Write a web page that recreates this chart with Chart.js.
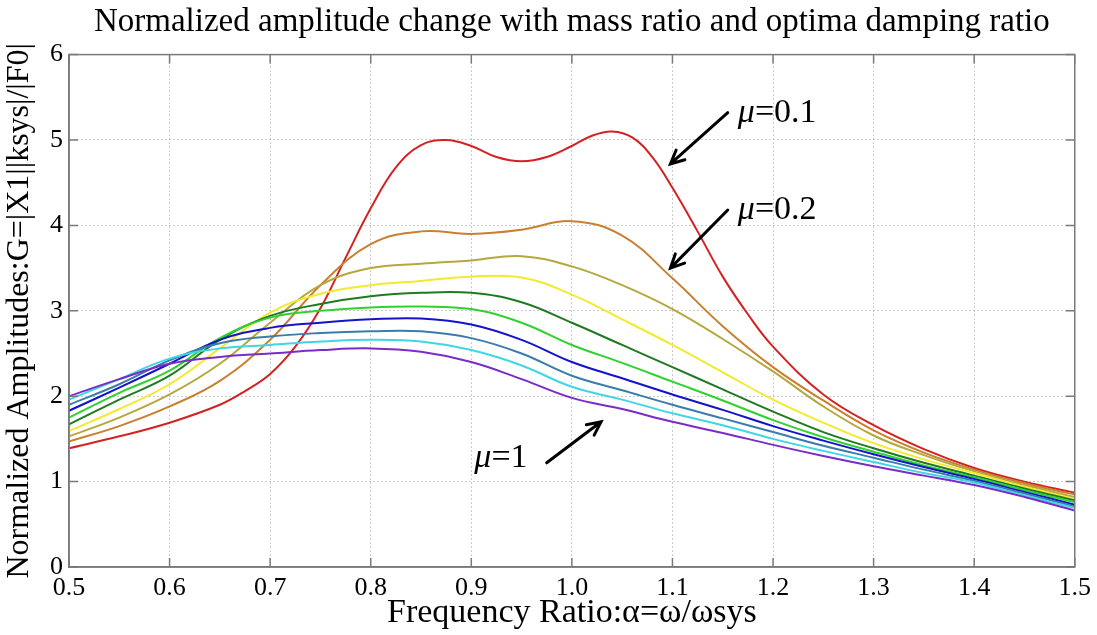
<!DOCTYPE html>
<html lang="en">
<head>
    <meta charset="UTF-8">
    <title>Normalized amplitude change</title>
    <script src="https://cdn.jsdelivr.net/npm/chart.js"></script>
    <style>
        html, body { margin: 0; padding: 0; background: #fff; }
        #wrap { width: 1097px; height: 635px; }
    </style>
</head>
<body>
    <div id="wrap"><canvas id="ampChart" width="1097" height="635"></canvas></div>
    <script>
        // frequency ratio grid shared by mu = 0.2 .. 1
        const freq = [0.5, 0.55, 0.6, 0.65, 0.7, 0.75, 0.8, 0.85, 0.9, 0.95, 1.0,
                      1.05, 1.1, 1.15, 1.2, 1.25, 1.3, 1.35, 1.4, 1.45, 1.5];

        // mu = 0.1 needs a finer grid (two peaks)
        const freqMu01 = [0.5, 0.55, 0.6, 0.65, 0.675, 0.7, 0.725, 0.75, 0.775, 0.8, 0.825, 0.85, 0.875,
                          0.9, 0.925, 0.95, 0.975, 1.0, 1.02, 1.04, 1.06, 1.08, 1.1, 1.125, 1.15,
                          1.175, 1.2, 1.25, 1.3, 1.35, 1.4, 1.45, 1.5];
        const ampMu01 = [1.39, 1.53, 1.69, 1.9, 2.06, 2.26, 2.58, 3.03, 3.62, 4.2, 4.68, 4.94, 5.0,
                         4.93, 4.8, 4.75, 4.8, 4.93, 5.05, 5.1, 5.03, 4.8, 4.44, 3.93, 3.4,
                         2.96, 2.58, 2.02, 1.66, 1.38, 1.16, 1.0, 0.87];

        const ampMu02 = [1.47, 1.65, 1.88, 2.18, 2.66, 3.3, 3.78, 3.93, 3.9, 3.95, 4.05, 3.88, 3.38, 2.82, 2.34, 1.95, 1.6, 1.34, 1.14, 0.98, 0.85];
        const ampMu03 = [1.53, 1.75, 2.02, 2.38, 2.86, 3.3, 3.5, 3.55, 3.59, 3.64, 3.52, 3.3, 3.02, 2.67, 2.29, 1.88, 1.54, 1.31, 1.12, 0.96, 0.82];
        const ampMu04 = [1.59, 1.85, 2.14, 2.56, 2.98, 3.2, 3.3, 3.35, 3.4, 3.39, 3.19, 2.9, 2.6, 2.28, 1.96, 1.69, 1.45, 1.26, 1.1, 0.94, 0.8];
        const ampMu05 = [1.67, 1.96, 2.24, 2.66, 2.94, 3.08, 3.17, 3.21, 3.21, 3.1, 2.86, 2.6, 2.34, 2.08, 1.82, 1.58, 1.39, 1.22, 1.07, 0.92, 0.78];
        const ampMu06 = [1.75, 2.04, 2.3, 2.68, 2.92, 3.0, 3.04, 3.05, 3.02, 2.86, 2.6, 2.39, 2.17, 1.95, 1.72, 1.52, 1.35, 1.19, 1.05, 0.9, 0.76];
        const ampMu07 = [1.83, 2.1, 2.38, 2.66, 2.8, 2.86, 2.9, 2.91, 2.84, 2.66, 2.4, 2.21, 2.02, 1.84, 1.65, 1.48, 1.32, 1.17, 1.03, 0.88, 0.73];
        const ampMu08 = [1.9, 2.14, 2.42, 2.62, 2.7, 2.74, 2.76, 2.76, 2.68, 2.5, 2.24, 2.07, 1.9, 1.74, 1.58, 1.42, 1.28, 1.14, 1.01, 0.86, 0.71];
        const ampMu09 = [1.96, 2.2, 2.44, 2.56, 2.6, 2.64, 2.66, 2.64, 2.54, 2.36, 2.11, 1.96, 1.8, 1.66, 1.5, 1.36, 1.23, 1.1, 0.99, 0.84, 0.69];
        const ampMu10 = [2.0, 2.2, 2.38, 2.46, 2.5, 2.54, 2.56, 2.52, 2.4, 2.2, 1.98, 1.85, 1.7, 1.57, 1.43, 1.3, 1.18, 1.07, 0.96, 0.82, 0.66];

        const muValues = ['0.1', '0.2', '0.3', '0.4', '0.5', '0.6', '0.7', '0.8', '0.9', '1'];
        const lineColors = ['#d42222', '#c98030', '#b5a83e', '#f2ea2c', '#1f7a22',
                            '#2fd22f', '#1414c8', '#3a7cab', '#3fd6e6', '#7a2cc6'];

        // text labels + arrows (data coordinates)
        const noteText = ['0.1', '0.2', '1'];
        const noteAt = [[1.165, 5.31], [1.165, 4.18], [0.903, 1.28]];
        const arrowFrom = [[1.155, 5.32], [1.155, 4.18], [0.975, 1.22]];
        const arrowTo = [[1.098, 4.72], [1.098, 3.5], [1.029, 1.70]];

        const serif = '"Liberation Serif", "Times New Roman", serif';

        function pts(xs, ys) {
            return xs.map((x, i) => ({ x: x, y: ys[i] }));
        }

        const seriesY = [ampMu02, ampMu03, ampMu04, ampMu05, ampMu06, ampMu07, ampMu08, ampMu09, ampMu10];
        const datasets = [{
            label: 'mu=' + muValues[0],
            data: pts(freqMu01, ampMu01),
            borderColor: lineColors[0],
        }];
        seriesY.forEach((ys, i) => {
            datasets.push({
                label: 'mu=' + muValues[i + 1],
                data: pts(freq, ys),
                borderColor: lineColors[i + 1],
            });
        });
        // draw mu=0.1 last so it sits on top like the original
        datasets.reverse();

        // matlab style frame, inward ticks and the mu annotations
        const matlabBits = {
            id: 'matlabBits',
            afterDatasetsDraw(chart) {
                const { ctx, chartArea: a, scales: { x, y } } = chart;
                ctx.save();
                ctx.strokeStyle = '#7a7a7a';
                ctx.lineWidth = 1.5;
                ctx.strokeRect(a.left, a.top, a.right - a.left, a.bottom - a.top);
                ctx.beginPath();
                x.ticks.forEach(t => {
                    const px = x.getPixelForValue(t.value);
                    ctx.moveTo(px, a.bottom); ctx.lineTo(px, a.bottom - 9);
                    ctx.moveTo(px, a.top); ctx.lineTo(px, a.top + 9);
                });
                y.ticks.forEach(t => {
                    const py = y.getPixelForValue(t.value);
                    ctx.moveTo(a.left, py); ctx.lineTo(a.left + 9, py);
                    ctx.moveTo(a.right, py); ctx.lineTo(a.right - 9, py);
                });
                ctx.stroke();

                // arrows
                ctx.strokeStyle = '#000';
                ctx.lineWidth = 3;
                ctx.lineCap = 'round';
                arrowFrom.forEach((f, i) => {
                    const x0 = x.getPixelForValue(f[0]), y0 = y.getPixelForValue(f[1]);
                    const x1 = x.getPixelForValue(arrowTo[i][0]), y1 = y.getPixelForValue(arrowTo[i][1]);
                    const ang = Math.atan2(y1 - y0, x1 - x0);
                    const h = 15;
                    ctx.beginPath();
                    ctx.moveTo(x0, y0); ctx.lineTo(x1, y1);
                    ctx.moveTo(x1 - h * Math.cos(ang - 0.45), y1 - h * Math.sin(ang - 0.45));
                    ctx.lineTo(x1, y1);
                    ctx.lineTo(x1 - h * Math.cos(ang + 0.45), y1 - h * Math.sin(ang + 0.45));
                    ctx.stroke();
                });

                // labels
                ctx.fillStyle = '#000';
                ctx.textBaseline = 'middle';
                noteText.forEach((txt, i) => {
                    let px = x.getPixelForValue(noteAt[i][0]);
                    const py = y.getPixelForValue(noteAt[i][1]);
                    ctx.font = 'italic 34px ' + serif;
                    ctx.fillText('\u03bc', px, py);
                    px += ctx.measureText('\u03bc').width;
                    ctx.font = '34px ' + serif;
                    ctx.fillText('=' + txt, px, py);
                });
                ctx.restore();
            }
        };

        const ctx = document.getElementById('ampChart').getContext('2d');
        new Chart(ctx, {
            type: 'line',
            data: { datasets: datasets },
            options: {
                responsive: false,
                animation: false,
                layout: { padding: { left: 0, right: 19, top: 0, bottom: 0 } },
                elements: {
                    line: { borderWidth: 2, tension: 0.4, fill: false },
                    point: { radius: 0 }
                },
                plugins: {
                    legend: { display: false },
                    tooltip: { enabled: false },
                    title: {
                        display: true,
                        fullSize: false,
                        text: 'Normalized amplitude change with mass ratio and optima damping ratio',
                        color: '#000',
                        font: { family: serif, size: 33, weight: 'normal' },
                        padding: { top: 3, bottom: 12 }
                    }
                },
                scales: {
                    x: {
                        type: 'linear',
                        min: 0.5,
                        max: 1.5,
                        afterFit(scale) { scale.height = 68; },
                        ticks: {
                            stepSize: 0.1,
                            color: '#000',
                            padding: 6,
                            maxRotation: 0,
                            font: { family: serif, size: 26 }
                        },
                        grid: { color: '#9a9a9a', lineWidth: 1, drawTicks: false },
                        border: { color: '#7a7a7a', width: 1.5, dash: [1, 3] },
                        title: {
                            display: true,
                            text: 'Frequency Ratio:\u03b1=\u03c9/\u03c9sys',
                            color: '#000',
                            font: { family: serif, size: 34 },
                            padding: { top: 0, bottom: 2 }
                        }
                    },
                    y: {
                        min: 0,
                        max: 6,
                        afterFit(scale) { scale.width = 69; },
                        ticks: {
                            stepSize: 1,
                            color: '#000',
                            padding: 6,
                            font: { family: serif, size: 26 }
                        },
                        grid: { color: '#9a9a9a', lineWidth: 1, drawTicks: false },
                        border: { color: '#7a7a7a', width: 1.5, dash: [1, 3] },
                        title: {
                            display: true,
                            text: 'Normalized Amplitudes:G=|X1||ksys|/|F0|',
                            color: '#000',
                            font: { family: serif, size: 32 },
                            padding: { top: 0, bottom: 0 }
                        }
                    }
                }
            },
            plugins: [matlabBits]
        });
    </script>
</body>
</html>
